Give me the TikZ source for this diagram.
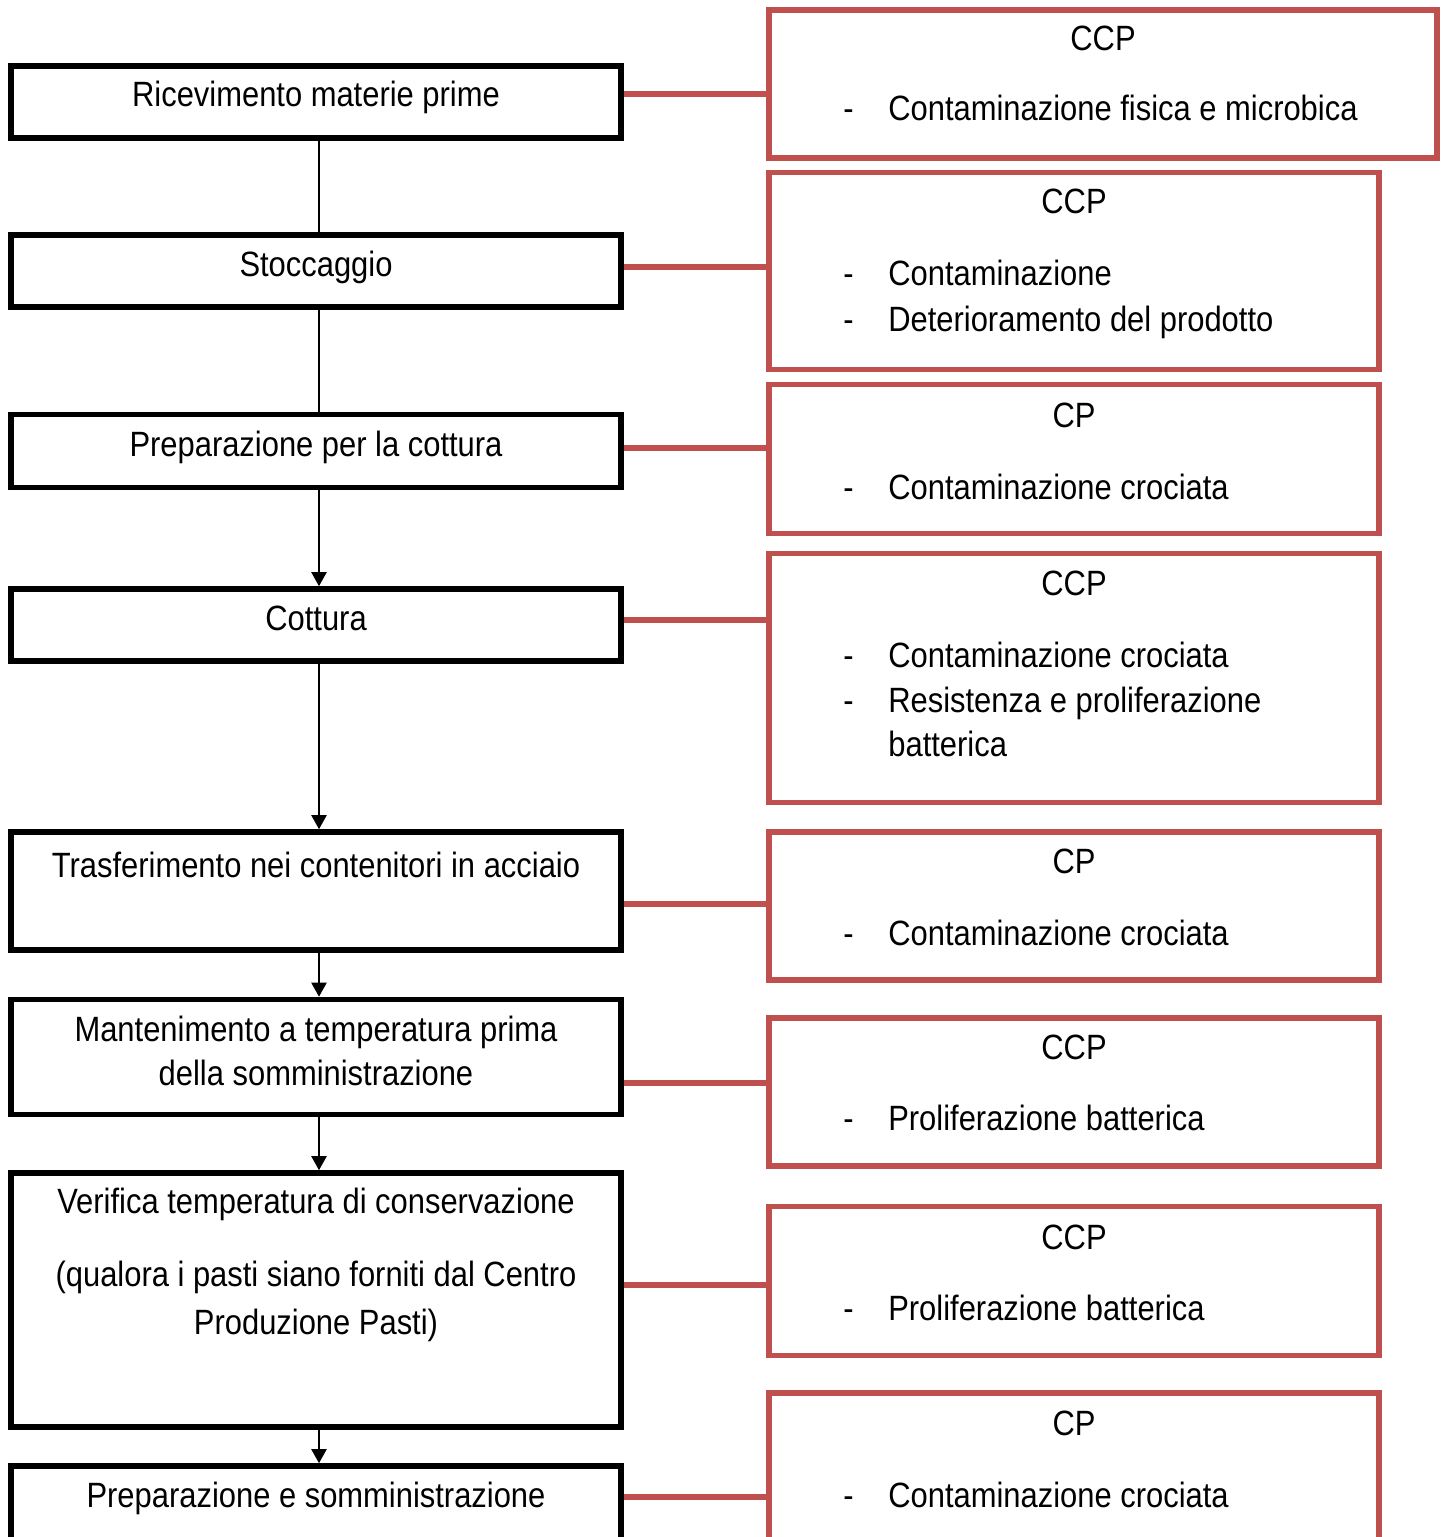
\documentclass[tikz,border=0pt]{standalone}
\usepackage{fontspec}
\setmainfont{Liberation Sans}[FakeStretch=0.88]
\usetikzlibrary{arrows.meta}
\definecolor{ccpred}{RGB}{192,80,77}
\newcommand{\itemdash}{\hbox to 0.9cm{-\hfil}}
\tikzset{
    stepbox/.style={draw=black, line width=3.2pt, minimum width=12.2cm, inner sep=0pt},
    riskbox/.style={draw=ccpred, line width=3.2pt, minimum width=12.2cm, inner sep=0pt},
    txt/.style={anchor=base, inner sep=0pt},
    item/.style={anchor=base west, inner sep=0pt},
    flow/.style={line width=1.2pt},
    flowarrow/.style={flow, -{Triangle[width=0.3cm,length=0.28cm]}},
    risklink/.style={draw=ccpred, line width=3.2pt}
}

\begin{document}
\begin{tikzpicture}[x=0.02cm, y=-0.02cm, font=\fontsize{20}{25}\selectfont]
    \useasboundingbox (0,0) rectangle (1446,1537);
    \clip (0,0) rectangle (1446,1537);

    % process steps
    \node[stepbox, minimum height=1.44cm] (l1) at (316,102) {};
    \node[stepbox, minimum height=1.44cm] (l2) at (316,271) {};
    \node[stepbox, minimum height=1.46cm] (l3) at (316,451) {};
    \node[stepbox, minimum height=1.44cm] (l4) at (316,625) {};
    \node[stepbox, minimum height=2.36cm] (l5) at (316,891) {};
    \node[stepbox, minimum height=2.30cm] (l6) at (316,1057) {};
    \node[stepbox, minimum height=5.08cm] (l7) at (316,1300) {};
    \node[stepbox, minimum height=2.56cm] (l8) at (316,1530) {};

    \node[txt] (t1) at (316,107) {Ricevimento materie prime};
    \node[txt] (t2) at (316,276) {Stoccaggio};
    \node[txt] (t3) at (316,456) {Preparazione per la cottura};
    \node[txt] (t4) at (316,630) {Cottura};
    \node[txt] (t5) at (316,877) {Trasferimento nei contenitori in acciaio};
    \node[txt] (t6a) at (316,1041) {Mantenimento a temperatura prima};
    \node[txt] (t6b) at (316,1085) {della somministrazione};
    \node[txt] (t7a) at (316,1213) {Verifica temperatura di conservazione};
    \node[txt] (t7b) at (316,1286) {(qualora i pasti siano forniti dal Centro};
    \node[txt] (t7c) at (316,1334) {Produzione Pasti)};
    \node[txt] (t8) at (316,1507) {Preparazione e somministrazione};

    \draw[flow] ([xshift=0.06cm]l1.south) -- ([xshift=0.06cm]l2.north);
    \draw[flow] ([xshift=0.06cm]l2.south) -- ([xshift=0.06cm]l3.north);
    \draw[flowarrow] ([xshift=0.06cm]l3.south) -- ([xshift=0.06cm]l4.north);
    \draw[flowarrow] ([xshift=0.06cm]l4.south) -- ([xshift=0.06cm]l5.north);
    \draw[flowarrow] ([xshift=0.06cm]l5.south) -- ([xshift=0.06cm]l6.north);
    \draw[flowarrow] ([xshift=0.06cm]l6.south) -- ([xshift=0.06cm]l7.north);
    \draw[flowarrow] ([xshift=0.06cm]l7.south) -- ([xshift=0.06cm]l8.north);

    % control points
    \node[riskbox, minimum width=13.36cm, minimum height=2.96cm] (r1) at (1103,84) {};
    \node[riskbox, minimum height=3.94cm] (r2) at (1074,271) {};
    \node[riskbox, minimum height=2.98cm] (r3) at (1074,459) {};
    \node[riskbox, minimum height=4.98cm] (r4) at (1074,678) {};
    \node[riskbox, minimum height=2.96cm] (r5) at (1074,906) {};
    \node[riskbox, minimum height=2.96cm] (r6) at (1074,1092) {};
    \node[riskbox, minimum height=2.98cm] (r7) at (1074,1281) {};
    \node[riskbox, minimum height=5.12cm] (r8) at (1074,1521) {};

    \node[txt] (c1) at (1103,51) {CCP};
    \node[item] (i1) at (843,121) {\itemdash Contaminazione fisica e microbica};
    \node[txt] (c2) at (1074,214) {CCP};
    \node[item] (i2a) at (843,286) {\itemdash Contaminazione};
    \node[item] (i2b) at (843,332) {\itemdash Deterioramento del prodotto};
    \node[txt] (c3) at (1074,427) {CP};
    \node[item] (i3) at (843,499) {\itemdash Contaminazione crociata};
    \node[txt] (c4) at (1074,595) {CCP};
    \node[item] (i4a) at (843,667) {\itemdash Contaminazione crociata};
    \node[item] (i4b) at (843,712) {\itemdash Resistenza e proliferazione};
    \node[item] (i4c) at (888,756) {batterica};
    \node[txt] (c5) at (1074,873) {CP};
    \node[item] (i5) at (843,945) {\itemdash Contaminazione crociata};
    \node[txt] (c6) at (1074,1059) {CCP};
    \node[item] (i6) at (843,1130) {\itemdash Proliferazione batterica};
    \node[txt] (c7) at (1074,1249) {CCP};
    \node[item] (i7) at (843,1320) {\itemdash Proliferazione batterica};
    \node[txt] (c8) at (1074,1435) {CP};
    \node[item] (i8) at (843,1507) {\itemdash Contaminazione crociata};

    \draw[risklink] (l1.east |- 0,94) -- (r1.west |- 0,94);
    \draw[risklink] (l2.east |- 0,267) -- (r2.west |- 0,267);
    \draw[risklink] (l3.east |- 0,448) -- (r3.west |- 0,448);
    \draw[risklink] (l4.east |- 0,620) -- (r4.west |- 0,620);
    \draw[risklink] (l5.east |- 0,904) -- (r5.west |- 0,904);
    \draw[risklink] (l6.east |- 0,1083) -- (r6.west |- 0,1083);
    \draw[risklink] (l7.east |- 0,1285) -- (r7.west |- 0,1285);
    \draw[risklink] (l8.east |- 0,1497) -- (r8.west |- 0,1497);
\end{tikzpicture}
\end{document}
